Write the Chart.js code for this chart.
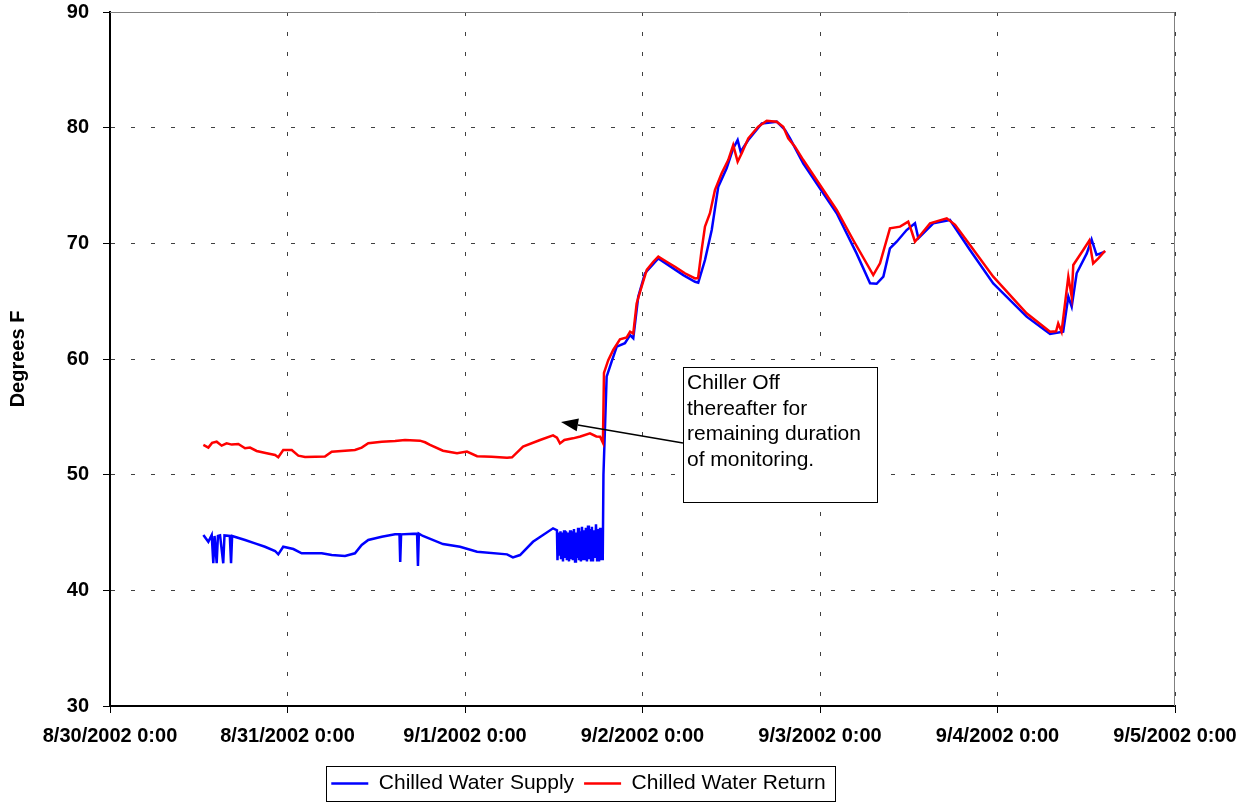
<!DOCTYPE html>
<html>
<head>
<meta charset="utf-8">
<title>Chilled Water Temperatures</title>
<script src="https://cdn.jsdelivr.net/npm/chart.js@4.4.1/dist/chart.umd.min.js"></script>
<style>
  html, body { margin: 0; padding: 0; background: #fff; }
  .wrap { width: 1239px; height: 804px; position: relative; }
</style>
</head>
<body>
<div class="wrap"><canvas id="chwChart"></canvas></div>
<script>
// x values are days after 8/30/2002 0:00
const dateLabels = ['8/30/2002 0:00', '8/31/2002 0:00', '9/1/2002 0:00', '9/2/2002 0:00',
                    '9/3/2002 0:00', '9/4/2002 0:00', '9/5/2002 0:00'];

const supplyDays = [0.526, 0.554, 0.573, 0.582, 0.589, 0.601, 0.608, 0.620, 0.638, 0.645, 0.675, 0.682, 0.688,
  0.761, 0.817, 0.873, 0.930, 0.948, 0.976, 1.033, 1.080, 1.193, 1.249, 1.324, 1.380, 1.418, 1.455, 1.531,
  1.606, 1.631, 1.635, 1.640, 1.730, 1.735, 1.740, 1.763, 1.876, 1.972, 2.068, 2.237, 2.270, 2.310, 2.383,
  2.496, 2.518,
  2.521, 2.526, 2.530, 2.538, 2.541, 2.547, 2.552, 2.558, 2.563, 2.569, 2.574, 2.580, 2.586, 2.592, 2.597,
  2.603, 2.608, 2.614, 2.620, 2.625, 2.631, 2.637, 2.642, 2.648, 2.653, 2.659, 2.665, 2.670, 2.676, 2.681,
  2.687, 2.693, 2.698, 2.704, 2.710, 2.715, 2.721, 2.727, 2.732, 2.738, 2.744, 2.749, 2.755, 2.761, 2.766,
  2.772, 2.776, 2.780,
  2.798, 2.826, 2.855, 2.901, 2.930, 2.948, 2.976, 3.014, 3.089, 3.230, 3.296, 3.314, 3.352, 3.390, 3.427,
  3.474, 3.511, 3.536, 3.553, 3.596, 3.672, 3.756, 3.803, 3.831, 3.906, 4.094, 4.206, 4.282, 4.319, 4.357,
  4.394, 4.432, 4.488, 4.535, 4.554, 4.638, 4.732, 4.845, 4.976, 5.164, 5.296, 5.370, 5.399, 5.418, 5.446,
  5.503, 5.530, 5.558, 5.606];
const supplyTemps = [44.78, 44.2, 44.78, 42.34, 44.7, 42.34, 44.7, 44.75, 42.34, 44.75, 44.7, 42.34, 44.7,
  44.35, 44.06, 43.77, 43.4, 43.11, 43.77, 43.57, 43.2, 43.2, 43.05, 42.97, 43.2, 43.92, 44.35, 44.64,
  44.84, 44.84, 42.45, 44.84, 44.9, 42.1, 44.9, 44.7, 44.0, 43.77, 43.34, 43.11, 42.85, 43.05, 44.2,
  45.36, 45.2,
  42.6, 45.0, 43.0, 45.1, 42.7, 45.0, 42.5, 45.2, 42.8, 45.1, 42.6, 45.0, 42.5, 45.2, 42.7,
  45.1, 42.6, 45.3, 42.5, 45.0, 42.8, 45.4, 42.6, 45.1, 42.5, 45.5, 42.7, 45.2, 42.6, 45.4,
  42.5, 45.6, 42.7, 45.3, 42.6, 45.5, 42.5, 45.2, 42.8, 45.7, 42.6, 45.3, 42.5, 45.4, 42.6,
  45.0, 42.6, 50.0,
  58.47, 59.77, 61.07, 61.36, 62.07, 61.79, 65.39, 67.41, 68.7, 67.25, 66.68, 66.6, 68.56, 71.15, 74.9,
  76.49, 78.21, 78.93, 77.92, 78.93, 80.37, 80.52, 79.8, 79.08, 76.9, 72.6, 69.13, 66.54, 66.5, 67.12,
  69.56, 70.14, 71.15, 71.73, 70.43, 71.73, 72.02, 69.42, 66.54, 63.66, 62.16, 62.36, 65.39, 64.52, 67.41,
  69.13, 70.34, 69.0, 69.28];

const returnDays = [0.526, 0.554, 0.575, 0.601, 0.629, 0.657, 0.686, 0.723, 0.761, 0.789, 0.826, 0.883, 0.930,
  0.948, 0.976, 1.024, 1.061, 1.099, 1.211, 1.249, 1.380, 1.418, 1.455, 1.531, 1.606, 1.662, 1.746, 1.775,
  1.803, 1.876, 1.955, 2.011, 2.068, 2.150, 2.237, 2.265, 2.327, 2.423, 2.496, 2.518, 2.535, 2.560, 2.608,
  2.650, 2.704, 2.740, 2.761, 2.777, 2.783, 2.807, 2.835, 2.873, 2.911, 2.930, 2.948, 2.967, 2.995, 3.024,
  3.061, 3.089, 3.136, 3.183, 3.239, 3.296, 3.313, 3.333, 3.352, 3.380, 3.408, 3.446, 3.483, 3.511, 3.536,
  3.559, 3.596, 3.652, 3.700, 3.756, 3.793, 3.821, 3.859, 3.906, 4.094, 4.187, 4.300, 4.338, 4.394, 4.451,
  4.497, 4.517, 4.535, 4.620, 4.714, 4.761, 4.845, 4.976, 5.164, 5.296, 5.330, 5.342, 5.361, 5.399, 5.418,
  5.427, 5.483, 5.517, 5.539, 5.568, 5.606];
const returnTemps = [52.57, 52.34, 52.75, 52.85, 52.51, 52.71, 52.6, 52.65, 52.28, 52.34, 52.05, 51.85, 51.7,
  51.5, 52.13, 52.13, 51.64, 51.53, 51.56, 51.99, 52.13, 52.34, 52.71, 52.85, 52.91, 53.0, 52.94, 52.8,
  52.57, 52.07, 51.85, 52.0, 51.6, 51.55, 51.47, 51.5, 52.42, 53.0, 53.4, 53.2, 52.7, 53.0, 53.14,
  53.3, 53.57, 53.3, 53.28, 52.75, 58.8, 59.9, 60.78, 61.7, 61.87, 62.36, 62.2, 64.8, 66.25, 67.7,
  68.41, 68.85, 68.41, 67.98, 67.41, 66.97, 67.0, 69.42, 71.44, 72.6, 74.6, 76.06, 77.2, 78.5, 77.06,
  77.79, 79.08, 80.08, 80.6, 80.52, 80.08, 79.08, 78.36, 77.2, 72.88, 70.29, 67.26, 68.27, 71.3, 71.44,
  71.87, 71.0, 70.14, 71.73, 72.16, 71.6, 69.85, 67.12, 63.95, 62.36, 62.4, 63.08, 62.36, 67.12, 65.39,
  68.13, 69.42, 70.23, 68.27, 68.7, 69.36];

const noteLines = ['Chiller Off', 'thereafter for', 'remaining duration', 'of monitoring.'];

const FONT = "'Liberation Sans', Arial, sans-serif";
const pts = (xs, ys) => xs.map((x, i) => ({ x, y: ys[i] }));

// gray frame of the plot area, under the lines
const plotFrame = {
  id: 'plotFrame',
  beforeDatasetsDraw(chart) {
    const { ctx, chartArea: a } = chart;
    ctx.save();
    ctx.strokeStyle = '#808080';
    ctx.lineWidth = 1;
    ctx.beginPath();
    ctx.moveTo(a.left, a.top + 0.5);
    ctx.lineTo(a.right - 0.5, a.top + 0.5);
    ctx.lineTo(a.right - 0.5, a.bottom);
    ctx.stroke();
    ctx.restore();
  }
};

// callout box with arrow, placed in data units
const callout = {
  id: 'callout',
  afterDatasetsDraw(chart) {
    const { ctx, scales: { x, y } } = chart;
    const left = x.getPixelForValue(3.228), right = x.getPixelForValue(4.321);
    const top = y.getPixelForValue(59.3), bottom = y.getPixelForValue(47.65);
    const sx = left, sy = y.getPixelForValue(52.74);
    const tx = x.getPixelForValue(2.541), ty = y.getPixelForValue(54.55);
    ctx.save();
    ctx.fillStyle = '#fff';
    ctx.fillRect(left, top, right - left, bottom - top);
    ctx.strokeStyle = '#000';
    ctx.lineWidth = 1;
    ctx.strokeRect(Math.round(left) + 0.5, Math.round(top) + 0.5, Math.round(right - left), Math.round(bottom - top));
    // arrow
    const ang = Math.atan2(ty - sy, tx - sx);
    const hl = 17, hw = 6.5;
    const bx = tx - hl * Math.cos(ang), by = ty - hl * Math.sin(ang);
    ctx.lineWidth = 1.5;
    ctx.beginPath();
    ctx.moveTo(sx, sy);
    ctx.lineTo(bx, by);
    ctx.stroke();
    ctx.fillStyle = '#000';
    ctx.beginPath();
    ctx.moveTo(tx, ty);
    ctx.lineTo(bx + hw * Math.sin(ang), by - hw * Math.cos(ang));
    ctx.lineTo(bx - hw * Math.sin(ang), by + hw * Math.cos(ang));
    ctx.closePath();
    ctx.fill();
    // text
    ctx.font = '21px ' + FONT;
    ctx.textAlign = 'left';
    ctx.textBaseline = 'alphabetic';
    noteLines.forEach((t, i) => ctx.fillText(t, left + 4, top + 22 + i * 25.5));
    ctx.restore();
  }
};

// nudge the legend left a bit, then box it
const legendFrame = {
  id: 'legendFrame',
  afterLayout(chart) {
    const lg = chart.legend;
    if (!lg) return;
    lg.left -= 9; lg.right -= 9;
    (lg.legendHitBoxes || []).forEach(b => { b.left -= 9; });
  },
  afterDraw(chart) {
    const boxes = chart.legend && chart.legend.legendHitBoxes;
    if (!boxes || !boxes.length) return;
    const l = Math.min(...boxes.map(b => b.left)) - 5;
    const r = Math.max(...boxes.map(b => b.left + b.width)) + 10;
    const t = Math.min(...boxes.map(b => b.top)) - 7;
    const btm = Math.max(...boxes.map(b => b.top + b.height)) + 7;
    const ctx = chart.ctx;
    ctx.save();
    ctx.strokeStyle = '#000';
    ctx.lineWidth = 1;
    ctx.strokeRect(Math.round(l) + 0.5, Math.round(t) + 0.5, Math.round(r - l), Math.round(btm - t));
    ctx.restore();
  }
};

new Chart(document.getElementById('chwChart'), {
  type: 'line',
  data: {
    datasets: [
      { label: 'Chilled Water Supply', data: pts(supplyDays, supplyTemps), borderColor: '#0000ff',
        backgroundColor: '#0000ff', borderWidth: 2.5, pointRadius: 0, tension: 0, order: 1 },
      { label: 'Chilled Water Return', data: pts(returnDays, returnTemps), borderColor: '#ff0000',
        backgroundColor: '#ff0000', borderWidth: 2.5, pointRadius: 0, tension: 0, order: 0 }
    ]
  },
  options: {
    responsive: true,
    maintainAspectRatio: false,
    animation: false,
    layout: { padding: { left: 0, right: 64, top: 12, bottom: 0 } },
    plugins: {
      legend: {
        position: 'bottom',
        labels: {
          color: '#000',
          font: { family: FONT, size: 21 },
          usePointStyle: true,
          pointStyle: 'line',
          pointStyleWidth: 37,
          padding: 10,
          sort: (a, b) => a.datasetIndex - b.datasetIndex
        }
      },
      tooltip: { enabled: false }
    },
    scales: {
      x: {
        type: 'linear',
        min: 0, max: 6,
        afterFit: s => { s.height = 57; s.paddingLeft = 0; s.paddingRight = 0; },
        ticks: {
          stepSize: 1, autoSkip: false, maxRotation: 0, padding: 11,
          color: '#000', font: { family: FONT, size: 20, weight: 'bold' },
          callback: v => dateLabels[v]
        },
        grid: { color: '#404040', tickColor: '#000', tickLength: 7 },
        border: { color: '#000', width: 2, dash: [4, 16] }
      },
      y: {
        min: 30, max: 90,
        afterFit: s => { s.width = 110; s.paddingTop = 0; s.paddingBottom = 0; },
        ticks: {
          stepSize: 10, padding: 14, color: '#000',
          font: { family: FONT, size: 20, weight: 'bold' }
        },
        grid: { color: '#404040', tickColor: '#000', tickLength: 7 },
        border: { color: '#000', width: 2, dash: [4, 16] },
        title: {
          display: true, text: 'Degrees F', color: '#000', padding: { top: 6, bottom: 0 },
          font: { family: FONT, size: 20, weight: 'bold' }
        }
      }
    }
  },
  plugins: [plotFrame, callout, legendFrame]
});
</script>
</body>
</html>
